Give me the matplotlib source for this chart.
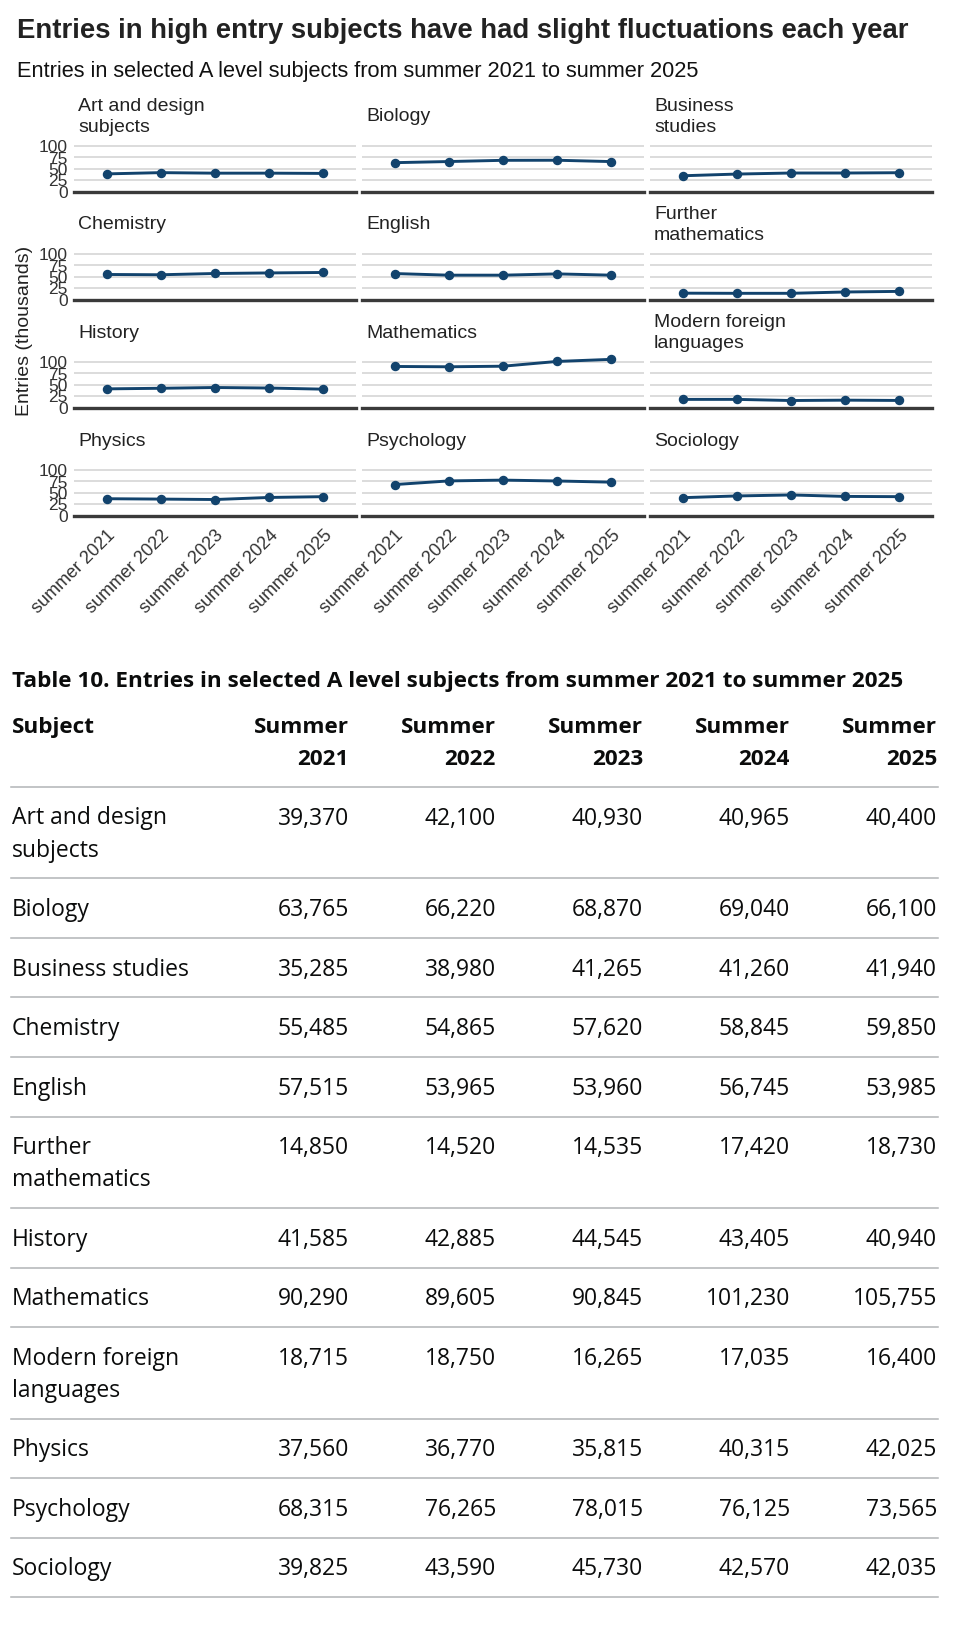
import matplotlib
matplotlib.use("Agg")
import matplotlib.pyplot as plt
from matplotlib.lines import Line2D
from matplotlib.transforms import ScaledTranslation

plt.rcParams["font.family"] = ["Liberation Sans", "DejaVu Sans"]

subjects = ["Art and design subjects", "Biology", "Business studies", "Chemistry",
            "English", "Further mathematics", "History", "Mathematics",
            "Modern foreign languages", "Physics", "Psychology", "Sociology"]
panel_titles = ["Art and design\nsubjects", "Biology", "Business\nstudies", "Chemistry",
                "English", "Further\nmathematics", "History", "Mathematics",
                "Modern foreign\nlanguages", "Physics", "Psychology", "Sociology"]
table_labels = ["Art and design\nsubjects", "Biology", "Business studies", "Chemistry",
                "English", "Further\nmathematics", "History", "Mathematics",
                "Modern foreign\nlanguages", "Physics", "Psychology", "Sociology"]
years = ["summer 2021", "summer 2022", "summer 2023", "summer 2024", "summer 2025"]
col_heads = ["Summer\n2021", "Summer\n2022", "Summer\n2023", "Summer\n2024", "Summer\n2025"]

entries_2021 = [39370, 63765, 35285, 55485, 57515, 14850, 41585, 90290, 18715, 37560, 68315, 39825]
entries_2022 = [42100, 66220, 38980, 54865, 53965, 14520, 42885, 89605, 18750, 36770, 76265, 43590]
entries_2023 = [40930, 68870, 41265, 57620, 53960, 14535, 44545, 90845, 16265, 35815, 78015, 45730]
entries_2024 = [40965, 69040, 41260, 58845, 56745, 17420, 43405, 101230, 17035, 40315, 76125, 42570]
entries_2025 = [40400, 66100, 41940, 59850, 53985, 18730, 40940, 105755, 16400, 42025, 73565, 42035]

all_years = [entries_2021, entries_2022, entries_2023, entries_2024, entries_2025]

W, H = 960, 1644
fig = plt.figure(figsize=(W / 100, H / 100), dpi=100)


def fx(x):
    return x / W


def fy(y):
    return 1 - y / H


# ---- small multiples ----
line_col = "#12436D"
lefts = [74, 362, 650]
zeros = [192, 300, 408, 516]
px_per_unit = 46 / 100
ytop = 110

for i, subj in enumerate(subjects):
    r, c = divmod(i, 3)
    ax = fig.add_axes([fx(lefts[c]), fy(zeros[r]), 282 / W, ytop * px_per_unit / H])
    vals = [yr[i] / 1000 for yr in all_years]
    ax.set_xlim(-0.6, 4.6)
    ax.set_ylim(0, ytop)
    ax.set_yticks([0, 25, 50, 75, 100])
    ax.set_xticks(range(5))
    ax.grid(axis="y", color="#d6d6d6", lw=1.2)
    ax.set_axisbelow(True)
    for s in ax.spines.values():
        s.set_visible(False)
    ax.axhline(0, color="#3a3a3a", lw=2.4, zorder=3, clip_on=False)
    ax.plot(range(5), vals, color=line_col, lw=2.1, marker="o", ms=5.8, zorder=4, clip_on=False)
    ax.tick_params(length=0, labelsize=12.5, labelcolor="#333333", pad=4.5)
    ax.tick_params(axis="x", pad=8)
    if c == 0:
        ax.set_yticklabels(["0", "25", "50", "75", "100"])
    else:
        ax.set_yticklabels([])
    if r == 3:
        ax.set_xticklabels(years, rotation=45, ha="right", fontsize=13)
        for lab in ax.get_xticklabels():
            lab.set_transform(lab.get_transform() + ScaledTranslation(12 / 100, 0, fig.dpi_scale_trans))
    else:
        ax.set_xticklabels([])
    ax.annotate(panel_titles[i], xy=(0, 100), xycoords=("axes fraction", "data"),
                xytext=(4, 29), textcoords="offset pixels", ha="left", va="center",
                fontsize=14, color="#222222", linespacing=1.27)

fig.text(fx(25), fy(331), "Entries (thousands)", rotation=90, ha="center", va="center",
         fontsize=14, color="#222222")
fig.text(fx(17), fy(38), "Entries in high entry subjects have had slight fluctuations each year",
         fontsize=19.8, fontweight="bold", color="#222222", va="baseline")
fig.text(fx(17), fy(77), "Entries in selected A level subjects from summer 2021 to summer 2025",
         fontsize=15.7, color="#111111", va="baseline")

# ---- table ----
tfont = ["Open Sans", "DejaVu Sans"]
tcol = "#0b0c0c"
rule = "#b1b4b6"
col_right = [349, 496, 643, 790, 937]
tsize = 16.5
bsize = 16.2

fig.text(fx(12), fy(687), "Table 10. Entries in selected A level subjects from summer 2021 to summer 2025",
         family=tfont, fontsize=bsize, fontweight="bold", color=tcol, va="baseline")
fig.text(fx(12), fy(733), "Subject", family=tfont, fontsize=bsize, fontweight="bold",
         color=tcol, va="baseline")
for xr, head in zip(col_right, col_heads):
    top, bottom = head.split("\n")
    fig.text(fx(xr), fy(733), top, family=tfont, fontsize=bsize, fontweight="bold",
             color=tcol, va="baseline", ha="right")
    fig.text(fx(xr), fy(765), bottom, family=tfont, fontsize=bsize, fontweight="bold",
             color=tcol, va="baseline", ha="right")


def hrule(y):
    fig.add_artist(Line2D([fx(11), fx(938)], [fy(y), fy(y)], color=rule, lw=1.1))


y = 787
hrule(y)
for i, lab in enumerate(table_labels):
    lines = lab.split("\n")
    base = y + 37.5
    for k, ln in enumerate(lines):
        fig.text(fx(12), fy(base + 32 * k), ln, family=tfont, fontsize=tsize, color=tcol,
                 va="baseline")
    for xr, yr in zip(col_right, all_years):
        fig.text(fx(xr), fy(base), f"{yr[i]:,}", family=tfont, fontsize=tsize, color=tcol,
                 va="baseline", ha="right")
    y = base + 32 * (len(lines) - 1) + 22
    hrule(y)

fig.savefig("out.png", dpi=100)
